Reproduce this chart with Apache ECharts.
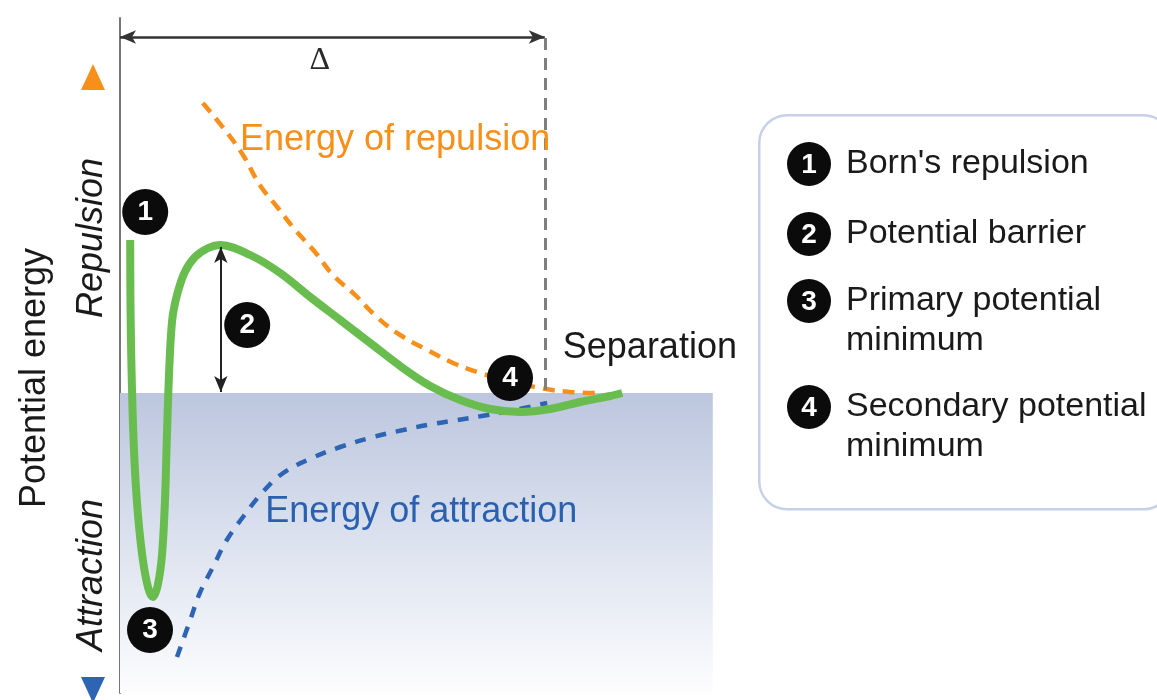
<!DOCTYPE html>
<html>
<head>
<meta charset="utf-8">
<script src="https://cdn.jsdelivr.net/npm/echarts@6/dist/echarts.min.js"></script>
<style>
html,body{margin:0;padding:0;background:#fff;}
#chart{width:1157px;height:700px;}
</style>
</head>
<body>
<div id="chart"></div>
<script>
// ---- data (separation x, energy y; schematic units) ----
const totalEnergy = [
  [0.17,3.06],[0.18,1.26],[0.22,-0.74],[0.28,-2.14],[0.37,-3.24],[0.47,-3.90],
  [0.55,-4.08],[0.63,-3.84],[0.70,-3.24],[0.75,-2.14],[0.78,-0.94],[0.82,0.46],
  [0.87,1.46],[0.95,1.96],[1.08,2.42],[1.25,2.72],[1.47,2.90],[1.67,2.96],
  [2.17,2.76],[2.67,2.40],[3.17,1.92],[3.67,1.46],[4.17,1.00],[4.67,0.54],
  [5.17,0.14],[5.67,-0.14],[6.17,-0.32],[6.67,-0.38],[7.17,-0.32],[7.67,-0.18],
  [8.17,-0.06],[8.37,0.00]
];
const repulsionEnergy = [
  [1.38,5.80],[1.75,5.26],[2.05,4.76],[2.33,4.16],[2.62,3.72],[2.92,3.26],
  [3.25,2.82],[3.55,2.36],[3.92,1.96],[4.28,1.52],[4.67,1.16],[5.12,0.86],
  [5.55,0.60],[6.00,0.40],[6.50,0.24],[7.00,0.10],[7.50,0.02],[8.00,0.00]
];
const attractionEnergy = [
  [0.95,-5.28],[1.17,-4.54],[1.33,-4.00],[1.55,-3.48],[1.78,-2.94],[2.05,-2.48],
  [2.38,-1.98],[2.72,-1.60],[3.20,-1.30],[3.67,-1.08],[4.22,-0.88],[4.72,-0.74],
  [5.12,-0.64],[5.62,-0.54],[6.03,-0.46],[6.58,-0.34],[7.12,-0.20]
];
const badgeNumbers = ['1','2','3','4'];
const legendItems = ["Born's repulsion", "Potential barrier", "Primary potential\nminimum", "Secondary potential\nminimum"];
const curveLabels = ['Energy of repulsion', 'Energy of attraction', 'Separation'];
const axisTitles = ['Potential energy', 'Repulsion', 'Attraction', 'Δ'];

// ---- chart ----
const FONT = '"Liberation Sans", Arial, Helvetica, sans-serif';
const chart = echarts.init(document.getElementById('chart'), null, {renderer:'canvas'});

const badgeCoords = [[0.42,3.62],[2.12,1.36],[0.50,-4.74],[6.50,0.30]];
const badgeData = badgeNumbers.map((n,i)=>({value:badgeCoords[i], name:n}));

function textPoint(coord, text, color, opts){
  return {
    value: coord,
    label: Object.assign({
      show:true, formatter:text, color:color, fontSize:36, fontFamily:FONT,
      position:'inside', align:'left', verticalAlign:'middle', opacity:1
    }, opts||{})
  };
}

const textData = [
  textPoint([2.0,5.06], curveLabels[0], '#f7901a'),
  textPoint([2.42,-2.38], curveLabels[1], '#2a60b0'),
  textPoint([7.38,0.90], curveLabels[2], '#1a1a1a'),
  textPoint([-1.42,0.30], axisTitles[0], '#1a1a1a', {rotate:90, align:'center'}),
  textPoint([-0.47,3.10], axisTitles[1], '#1a1a1a', {rotate:90, align:'center', fontStyle:'italic'}),
  textPoint([-0.47,-3.64], axisTitles[2], '#1a1a1a', {rotate:90, align:'center', fontStyle:'italic'}),
  textPoint([3.33,6.64], axisTitles[3], '#2a2a2a', {align:'center', fontSize:32, fontFamily:'"Liberation Serif","DejaVu Serif",serif'})
];

const legendY = [164, 234, 301, 407];
const graphics = [{
  type:'rect', left:758, top:114,
  shape:{x:0,y:0,width:412,height:394,r:28},
  style:{fill:'#ffffff', stroke:'#c6d0e6', lineWidth:2.5},
  z:1
}];
legendItems.forEach((t,i)=>{
  graphics.push({
    type:'circle', shape:{cx:809, cy:legendY[i], r:22},
    style:{fill:'#0b0b0b'}, z:5
  });
  graphics.push({
    type:'text', x:809, y:legendY[i]+1,
    style:{text:badgeNumbers[i], fill:'#ffffff', font:'bold 28px '+FONT,
      align:'center', verticalAlign:'middle', textAlign:'center', textVerticalAlign:'middle'},
    z:6
  });
  graphics.push({
    type:'text', x:846, y:legendY[i]-20,
    style:{text:t, fill:'#1a1a1a', font:'34px '+FONT, lineHeight:40,
      align:'left', verticalAlign:'top', textAlign:'left', textVerticalAlign:'top'},
    z:6
  });
});

const option = {
  animation:false,
  backgroundColor:'#ffffff',
  grid:{left:0, top:18, width:1140, height:675},
  xAxis:{type:'value', min:-2, max:17,
    axisLine:{show:false}, axisTick:{show:false}, axisLabel:{show:false}, splitLine:{show:false}},
  yAxis:{type:'value', min:-6, max:7.5,
    axisLine:{show:true, onZero:true, lineStyle:{color:'#777777', width:2}},
    axisTick:{show:false}, axisLabel:{show:false}, splitLine:{show:false}},
  graphic:graphics,
  series:[
    {
      name:'Energy of attraction', type:'line', data:attractionEnergy, smooth:0.4,
      showSymbol:false, symbol:'none', z:3,
      lineStyle:{color:'#2e64b4', width:4.5, type:[11,10], opacity:1},
      markArea:{silent:true,
        itemStyle:{color:{type:'linear',x:0,y:0,x2:0,y2:1,colorStops:[
          {offset:0,color:'#bcc6de'},{offset:0.5,color:'#dce2ef'},{offset:1,color:'#fdfdfe'}]}},
        data:[[{coord:[0,0]},{coord:[9.88,-6]}]]
      }
    },
    {
      name:'Energy of repulsion', type:'line', data:repulsionEnergy, smooth:0.4,
      showSymbol:false, symbol:'none', z:3,
      lineStyle:{color:'#f7901a', width:4.5, type:[12,8], opacity:1},
      markLine:{silent:true, animation:false, label:{show:false},
        data:[
          [{coord:[0,7.12], symbol:'arrow', symbolSize:[10,16]},{coord:[7.08,7.12], symbol:'arrow', symbolSize:[10,16],
            lineStyle:{color:'#333333', width:2.5, type:'solid'}}],
          [{coord:[7.08,7.1], symbol:'none'},{coord:[7.08,0.06], symbol:'none',
            lineStyle:{color:'#7f7f7f', width:3, type:[12,8]}}],
          [{coord:[1.68,2.92], symbol:'arrow', symbolSize:[10,16]},{coord:[1.68,0.02], symbol:'arrow', symbolSize:[10,16],
            lineStyle:{color:'#222222', width:2, type:'solid'}}]
        ]
      }
    },
    {
      name:'Total energy', type:'line', data:totalEnergy, smooth:0.35,
      showSymbol:false, symbol:'none', z:4,
      lineStyle:{color:'#69bd4e', width:8, cap:'butt', join:'round', opacity:1}
    },
    {
      name:'badges', type:'scatter', data:badgeData, symbol:'circle', symbolSize:46,
      z:6, clip:false, silent:true,
      itemStyle:{color:'#0b0b0b', opacity:1},
      label:{show:true, position:'inside', formatter:p=>p.name, color:'#ffffff',
        fontSize:28, fontWeight:'bold', fontFamily:FONT, opacity:1}
    },
    {
      name:'arrows', type:'scatter', z:6, clip:false, silent:true,
      symbol:'triangle', itemStyle:{opacity:1},
      data:[
        {value:[-0.45,6.32], symbolSize:[24,26], itemStyle:{color:'#f7901a', opacity:1}},
        {value:[-0.45,-5.94], symbolSize:[24,26], symbolRotate:180, itemStyle:{color:'#2e64b4', opacity:1}}
      ]
    },
    {
      name:'texts', type:'scatter', z:7, clip:false, silent:true,
      symbolSize:0, data:textData, itemStyle:{color:'#ffffff', opacity:1}
    }
  ]
};
chart.setOption(option);
</script>
</body>
</html>
